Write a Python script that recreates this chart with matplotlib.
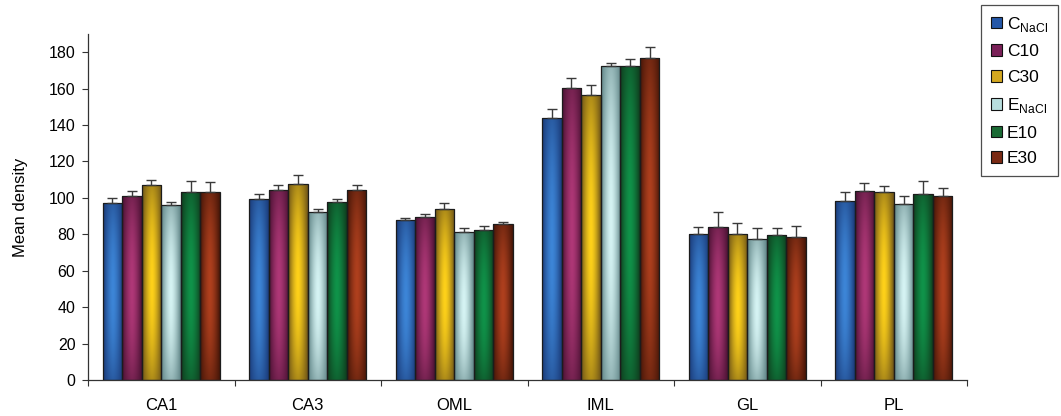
import numpy as np
import matplotlib
matplotlib.use("Agg")
import matplotlib.pyplot as plt
from matplotlib.patches import Patch
from matplotlib.colors import to_rgb

plt.rcParams['font.family'] = ['Liberation Sans', 'DejaVu Sans']

categories = ["CA1", "CA3", "OML", "IML", "GL", "PL"]
series = ["C$_{\\mathregular{NaCl}}$", "C10", "C30", "E$_{\\mathregular{NaCl}}$", "E10", "E30"]

c_nacl = [97.3, 99.3, 88.0, 144.0, 80.1, 98.4]
c10 = [101.0, 104.3, 89.5, 160.1, 84.1, 103.9]
c30 = [107.0, 107.4, 93.8, 156.7, 80.1, 103.0]
e_nacl = [96.0, 92.4, 81.2, 172.5, 77.6, 96.4]
e10 = [103.0, 97.5, 82.1, 172.5, 79.6, 102.4]
e30 = [103.0, 104.3, 85.8, 176.7, 78.7, 101.2]

err_c_nacl = [2.7, 2.7, 1.0, 4.6, 4.0, 4.6]
err_c10 = [3.0, 3.0, 1.5, 5.5, 8.3, 4.5]
err_c30 = [3.0, 5.0, 3.5, 5.5, 5.9, 3.6]
err_e_nacl = [1.5, 1.5, 2.0, 1.5, 5.6, 4.8]
err_e10 = [6.4, 2.0, 2.6, 3.5, 3.6, 7.0]
err_e30 = [5.5, 2.7, 1.0, 6.0, 6.0, 4.4]

values = [c_nacl, c10, c30, e_nacl, e10, e30]
errors = [err_c_nacl, err_c10, err_c30, err_e_nacl, err_e10, err_e30]

# (dark edge, light centre, legend colour)
palette = [
    ("#1a3a78", "#3d86d8", "#2457a8"),
    ("#4a1233", "#b03878", "#7a2058"),
    ("#6e5418", "#ffd21a", "#d4a820"),
    ("#5f8486", "#d6f4f4", "#b8dede"),
    ("#0f3d1e", "#10944a", "#1a6a34"),
    ("#451608", "#b0401e", "#7a2a14"),
]

fig = plt.figure(figsize=(10.61, 4.16), dpi=100)
ax = fig.add_axes([88 / 1061, 1 - 380 / 416, (967 - 88) / 1061, (380 - 34) / 416])

n = len(series)
x = np.arange(len(categories))
group_w = 0.8
bw = group_w / n

for i in range(n):
    pos = x - group_w / 2 + bw * (i + 0.5)
    bars = ax.bar(pos, values[i], width=bw, facecolor="none",
                  edgecolor="#1c1c1c", linewidth=0.9, zorder=3)
    dark = np.array(to_rgb(palette[i][0]))
    light = np.array(to_rgb(palette[i][1]))
    nx, ny = 40, 120
    u = np.linspace(0, 1, nx)
    v = np.linspace(0, 1, ny)
    fx = 1 - np.abs(2 * u - 1) ** 1.6
    gy = 1 - 0.55 * np.abs(2 * v - 1) ** 2
    t = np.clip(np.outer(gy, fx), 0, 1)
    img = dark[None, None, :] + (light - dark)[None, None, :] * t[:, :, None]
    for b in bars:
        bx, by = b.get_x(), b.get_y()
        w, h = b.get_width(), b.get_height()
        im = ax.imshow(img, extent=(bx, bx + w, by, by + h), origin="lower",
                       aspect="auto", zorder=2, interpolation="bilinear")
        im.set_clip_path(b)
    ax.errorbar(pos, values[i], yerr=[np.zeros(len(categories)), errors[i]],
                fmt="none", ecolor="#3a3a3a", elinewidth=1.0, capsize=3.5,
                capthick=1.0, zorder=4)

ax.set_xlim(-0.5, len(categories) - 0.5)
ax.set_ylim(0, 190)
ax.set_yticks(np.arange(0, 181, 20))
ax.set_xticks(np.arange(len(categories) + 1) - 0.5)
ax.set_xticklabels([])
ax.set_xticks(x, minor=True)
ax.set_xticklabels(categories, minor=True, fontsize=12)
ax.tick_params(axis="x", which="minor", length=0, pad=13)
ax.tick_params(axis="x", which="major", length=4, direction="out", color="#333333")
ax.tick_params(axis="y", length=4, direction="out", labelsize=11.5, color="#333333", pad=5)
for s in ["top", "right"]:
    ax.spines[s].set_visible(False)
for s in ["left", "bottom"]:
    ax.spines[s].set_color("#333333")
    ax.spines[s].set_linewidth(0.9)
ax.set_ylabel("Mean density", fontsize=12, labelpad=15)

handles = [Patch(facecolor=palette[i][2], edgecolor="#111111", linewidth=0.8)
           for i in range(n)]
leg = fig.legend(handles, series, loc="upper left",
                 bbox_to_anchor=(981 / 1061, 1 - 5 / 416), fontsize=12.5,
                 frameon=True, fancybox=False, edgecolor="#222222",
                 handlelength=0.65, handleheight=0.65, handletextpad=0.3,
                 labelspacing=0.62, borderpad=0.55, borderaxespad=0)
leg.get_frame().set_linewidth(0.9)

fig.savefig("out.png", dpi=100)
